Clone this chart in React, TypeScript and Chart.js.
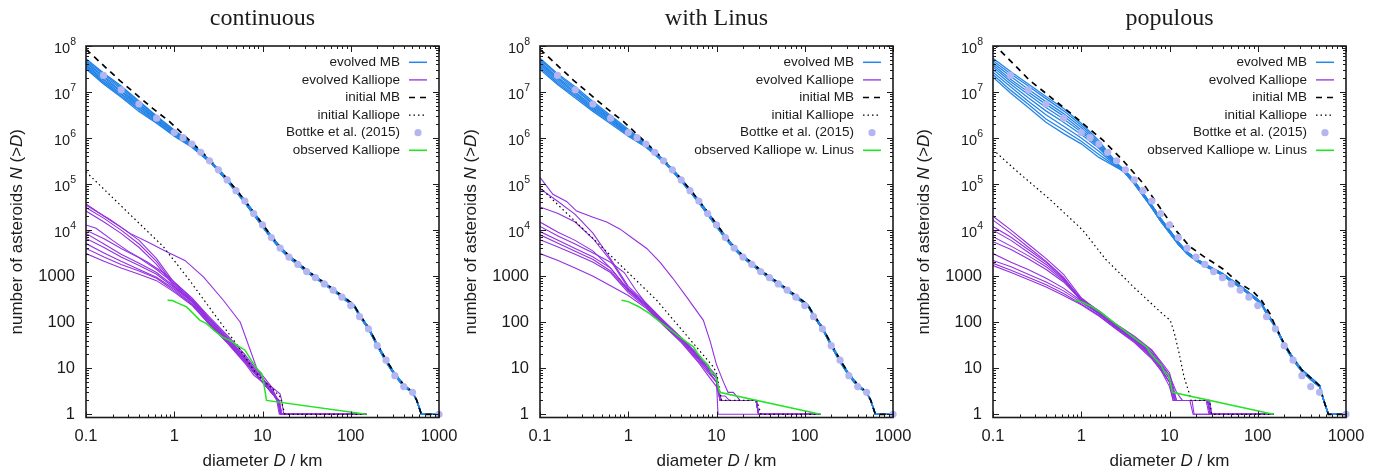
import React, { useEffect, useRef } from 'react';
import { Chart, registerables } from 'chart.js';

Chart.register(...registerables);

// ---------------- text ----------------
const panelTitles = ['continuous', 'with Linus', 'populous'];
const legendLabels = ['evolved MB', 'evolved Kalliope', 'initial MB', 'initial Kalliope', 'Bottke et al. (2015)'];
const observedLabels = ['observed Kalliope', 'observed Kalliope w. Linus', 'observed Kalliope w. Linus'];
const yTitleParts = ['number of asteroids ', 'N', ' (>', 'D', ')'];
const yTitleItalic = [false, true, false, true, false];
const xTitleParts = ['diameter ', 'D', ' / km'];
const xTitleItalic = [false, true, false];

// ---------------- ticks ----------------
const xTickValues = [0.1, 1, 10, 100, 1000];
const xTickLabels = ['0.1', '1', '10', '100', '1000'];
const yTickValues = [1, 10, 100, 1000, 1e4, 1e5, 1e6, 1e7, 1e8];
const yTickBase = ['1', '10', '100', '1000', '10', '10', '10', '10', '10'];
const yTickExp = ['', '', '', '', '4', '5', '6', '7', '8'];

// ---------------- Bottke et al. (2015) ----------------
const bottkeD = [0.158, 0.251, 0.398, 0.631, 1, 1.259, 1.585, 1.995, 2.512, 3.162, 3.981, 5.012, 6.31, 7.943, 10, 12.59, 15.85, 19.95, 25.12, 31.62, 39.81, 50.12, 63.1, 79.43, 100, 125.9, 158.5, 199.5, 251.2, 316.2, 398.1, 501.2, 1000];
const bottkeN = [2.3e7, 1.12e7, 5.5e6, 2.7e6, 1.32e6, 1.02e6, 7.4e5, 4.9e5, 3.2e5, 2.04e5, 1.23e5, 7.2e4, 4.3e4, 2.3e4, 1.3e4, 6.9e3, 4.1e3, 2.6e3, 1.8e3, 1.26e3, 930, 680, 500, 350, 230, 132, 72, 31, 15, 6.9, 4.0, 3.0, 1];

// ---------------- evolved MB (heads differ, tails overlap) ----------------
const mbHeadD = [0.1, 0.158, 0.251, 0.398, 0.631, 1, 1.585, 2.512];
const mbHeads1 = [
  [5.3e7, 2.6e7, 1.35e7, 6.4e6, 3.0e6, 1.5e6, 7.6e5, 3.4e5],
  [4.9e7, 2.45e7, 1.25e7, 6.0e6, 2.95e6, 1.42e6, 7.5e5, 3.3e5],
  [4.6e7, 2.2e7, 1.18e7, 5.5e6, 2.8e6, 1.4e6, 7.1e5, 3.25e5],
  [4.3e7, 2.1e7, 1.05e7, 5.4e6, 2.6e6, 1.33e6, 7.0e5, 3.2e5],
  [4.0e7, 1.9e7, 1.02e7, 4.9e6, 2.55e6, 1.3e6, 6.8e5, 3.15e5],
  [3.8e7, 1.8e7, 9.2e6, 4.8e6, 2.4e6, 1.24e6, 6.9e5, 3.1e5],
  [3.6e7, 1.65e7, 8.8e6, 4.4e6, 2.3e6, 1.2e6, 6.6e5, 3.1e5],
  [3.4e7, 1.6e7, 8.1e6, 4.2e6, 2.15e6, 1.14e6, 6.4e5, 3.05e5],
  [3.2e7, 1.5e7, 7.7e6, 3.8e6, 2.1e6, 1.1e6, 6.3e5, 3.0e5],
];
const mbHeads2 = [
  [5.4e7, 2.5e7, 1.3e7, 6.2e6, 3.1e6, 1.55e6, 7.8e5, 3.4e5],
  [5.0e7, 2.35e7, 1.2e7, 5.7e6, 2.9e6, 1.45e6, 7.4e5, 3.3e5],
  [4.6e7, 2.1e7, 1.12e7, 5.4e6, 2.75e6, 1.38e6, 7.3e5, 3.3e5],
  [4.3e7, 2.0e7, 1.0e7, 5.0e6, 2.6e6, 1.3e6, 7.0e5, 3.2e5],
  [4.0e7, 1.85e7, 9.4e6, 4.6e6, 2.5e6, 1.26e6, 6.8e5, 3.15e5],
  [3.7e7, 1.7e7, 8.6e6, 4.4e6, 2.35e6, 1.2e6, 6.7e5, 3.1e5],
  [3.4e7, 1.55e7, 8.1e6, 4.1e6, 2.2e6, 1.15e6, 6.5e5, 3.05e5],
  [3.1e7, 1.45e7, 7.4e6, 3.8e6, 2.05e6, 1.1e6, 6.3e5, 3.0e5],
];
const mbHeads3 = [
  [5.4e7, 2.8e7, 1.5e7, 8.0e6, 4.4e6, 2.1e6, 8.8e5, 2.9e5],
  [4.8e7, 2.5e7, 1.35e7, 7.2e6, 3.9e6, 1.9e6, 8.0e5, 2.8e5],
  [4.3e7, 2.2e7, 1.15e7, 6.2e6, 3.4e6, 1.7e6, 7.4e5, 2.75e5],
  [3.9e7, 1.9e7, 1.0e7, 5.4e6, 3.0e6, 1.5e6, 7.0e5, 2.7e5],
  [3.5e7, 1.7e7, 8.8e6, 4.6e6, 2.6e6, 1.35e6, 6.5e5, 2.6e5],
  [3.1e7, 1.5e7, 7.5e6, 3.9e6, 2.2e6, 1.2e6, 6.0e5, 2.5e5],
  [2.7e7, 1.3e7, 6.3e6, 3.2e6, 1.8e6, 1.0e6, 5.2e5, 2.45e5],
  [2.4e7, 1.1e7, 5.4e6, 2.6e6, 1.5e6, 8.5e5, 4.4e5, 2.35e5],
  [2.1e7, 9.5e6, 4.6e6, 2.2e6, 1.25e6, 7.5e5, 3.8e5, 2.3e5],
];
const mbTailD = [3.162, 3.981, 5.012, 6.31, 7.943, 10, 12.59, 15.85, 19.95, 25.12, 31.62, 39.81, 50.12, 63.1, 79.43, 100, 110, 125.9, 158.5, 199.5, 251.2, 316.2, 398.1, 501.2, 560, 631, 1000];
const mbTailA = [2.12e5, 1.3e5, 7.6e4, 4.45e4, 2.45e4, 1.35e4, 7.4e3, 4.35e3, 2.8e3, 1.95e3, 1.35e3, 985, 720, 528, 375, 270, 228, 147, 77, 33.5, 15.3, 7.6, 4.4, 3.05, 2, 1, 1];
const mbTailB = [1.92e5, 1.16e5, 6.8e4, 3.95e4, 2.17e4, 1.2e4, 6.6e3, 3.95e3, 2.5e3, 1.78e3, 1.24e3, 905, 670, 488, 345, 246, 212, 136, 71, 30.5, 13.8, 6.9, 4.0, 2.95, 2, 1, 1];
const mbTail3A = [1.92e5, 1.17e5, 6.3e4, 3.45e4, 1.78e4, 1.0e4, 5.5e3, 3.35e3, 2.4e3, 1.83e3, 1.45e3, 1.14e3, 830, 620, 438, 310, 258, 167, 83, 34.5, 16.8, 9.3, 6.3, 4.25, 2, 1, 1];
const mbTail3B = [1.72e5, 1.03e5, 5.6e4, 3.05e4, 1.58e4, 8.9e3, 4.9e3, 3.05e3, 2.17e3, 1.68e3, 1.34e3, 1.05e3, 770, 572, 405, 286, 242, 153, 77, 31.5, 15.2, 8.5, 5.7, 3.95, 2, 1, 1];

// ---------------- initial MB ----------------
const initMB12Head = [[0.1, 8.5e7], [0.24, 1.8e7], [0.57, 4.4e6], [0.88, 2.3e6], [1.36, 1.05e6], [2.0, 5.3e5], [2.512, 3.4e5]];
const initMB3 = [[0.1, 1.15e8], [0.26, 1.8e7], [0.68, 4.1e6], [1.76, 9e5], [2.95, 3.3e5], [5, 1.05e5], [8.4, 2.5e4], [12, 9.5e3], [17, 4.4e3], [25, 2.6e3], [31, 2.0e3], [40, 1.45e3], [62, 700], [89, 460], [110, 300], [137, 155], [158.5, 82], [199.5, 34], [251.2, 16.5], [316.2, 9.2], [398.1, 6.2], [501.2, 4.2], [560, 2], [631, 1], [1000, 1]];

// ---------------- initial Kalliope ----------------
const initK1 = [[0.1, 1.85e5], [0.3, 2.4e4], [0.75, 4.4e3], [1.5, 800], [3, 130], [5, 35], [8, 9], [10, 5.5], [13, 3.6], [15.8, 2.4], [18, 1], [150, 1]];
const initK2 = [[0.1, 8.5e4], [0.13, 5.2e4], [0.57, 3.4e3], [2.1, 300], [9.1, 11], [10, 8], [11.4, 2], [28.5, 2], [32, 1], [150, 1]];
const initK3 = [[0.1, 5.6e5], [0.2, 1.7e5], [0.45, 4.5e4], [1.04, 1e4], [1.9, 2.3e3], [2.95, 1.0e3], [3.85, 600], [5.9, 280], [8.4, 150], [10.2, 110], [11.3, 60], [12.8, 22], [14.6, 6.5], [16.8, 2.8], [17.5, 2], [28.5, 2], [30, 1], [150, 1]];

// ---------------- observed Kalliope ----------------
const obsCont = [[0.84, 300], [0.95, 295], [1.1, 260], [1.38, 215], [1.96, 110], [2.33, 93], [2.8, 67], [3.5, 48], [4.3, 40], [5.5, 29], [6.3, 25], [7.9, 12.6], [9, 9], [9.8, 7.6], [10.2, 5.5], [11.1, 2], [150, 1]];
const obsLinus = [[0.84, 300], [1.0, 280], [1.3, 220], [1.7, 160], [2.4, 95], [3.4, 57], [4.6, 37], [5.5, 29], [6.0, 22], [7.1, 15], [8.1, 11.5], [8.8, 8], [9.6, 7.5], [10, 6], [10.8, 3], [150, 1]];

// ---------------- evolved Kalliope ----------------
const kall1 = [
  [[0.1, 3.5e4], [0.187, 1.7e4], [0.316, 8.5e3], [0.5, 5.5e3], [0.82, 3.4e3], [1.32, 2.2e3], [2.14, 970], [3.6, 300], [5.6, 100], [8.6, 10], [10.2, 5.5], [12.6, 4], [15.8, 2.8], [16.5, 2], [17.4, 1], [150, 1]],
  [[0.1, 3.7e4], [0.16, 2.0e4], [0.25, 1.15e4], [0.4, 6e3], [0.63, 2.4e3], [1, 720], [1.6, 330], [2.5, 130], [4, 52], [6.3, 20], [8, 11], [10, 7], [12.6, 4], [15, 2], [16, 1], [150, 1]],
  [[0.1, 3.1e4], [0.16, 1.8e4], [0.25, 1.0e4], [0.4, 5e3], [0.63, 2.1e3], [1, 650], [1.6, 300], [2.5, 120], [4, 48], [6.3, 18], [8, 10], [10, 6], [12.6, 3], [15.5, 2], [16.5, 1], [150, 1]],
  [[0.1, 2.6e4], [0.16, 1.5e4], [0.25, 8.5e3], [0.4, 4.2e3], [0.63, 1.8e3], [1, 600], [1.6, 280], [2.5, 110], [4, 45], [6.3, 17], [8, 9], [10, 5], [13, 3], [15, 2], [16, 1], [150, 1]],
  [[0.1, 1.3e4], [0.13, 1.1e4], [0.2, 6e3], [0.3, 3.5e3], [0.5, 2e3], [0.8, 1.1e3], [1, 750], [1.6, 330], [2.5, 120], [4, 45], [6.3, 17], [8, 10], [10, 6], [12, 4], [14.5, 2], [15.5, 1], [150, 1]],
  [[0.1, 1.0e4], [0.16, 6.5e3], [0.25, 4e3], [0.4, 2.5e3], [0.63, 1.4e3], [1, 680], [1.6, 300], [2.5, 110], [4, 42], [6.3, 16], [8, 9], [10, 6], [12.6, 3.5], [15, 2], [16, 1], [150, 1]],
  [[0.1, 8.5e3], [0.16, 5e3], [0.25, 3e3], [0.4, 1.9e3], [0.63, 1.2e3], [1, 600], [1.6, 280], [2.5, 100], [4, 40], [6.3, 15], [8, 8], [10, 5], [12.6, 3], [15.5, 2], [16.5, 1], [150, 1]],
  [[0.1, 6.6e3], [0.16, 4.2e3], [0.25, 2.6e3], [0.4, 1.7e3], [0.63, 1.1e3], [1, 560], [1.6, 270], [2.5, 100], [4, 40], [6.3, 15], [8, 9], [10, 6], [12.6, 3], [15, 2], [16, 1], [150, 1]],
  [[0.1, 5.1e3], [0.16, 3.2e3], [0.25, 2.1e3], [0.4, 1.4e3], [0.63, 950], [1, 520], [1.6, 250], [2.5, 95], [4, 38], [6.3, 14], [8, 8], [10, 5], [12.6, 3], [15, 2], [16.5, 1], [150, 1]],
  [[0.1, 4e3], [0.16, 2.6e3], [0.25, 1.8e3], [0.4, 1.3e3], [0.63, 900], [1, 480], [1.6, 240], [2.5, 90], [4, 36], [6.3, 14], [8, 8], [10, 5], [12.6, 3], [15, 2], [16, 1], [150, 1]],
  [[0.1, 3.1e3], [0.16, 2.1e3], [0.25, 1.5e3], [0.4, 1.1e3], [0.63, 800], [1, 450], [1.6, 230], [2.5, 90], [4, 35], [6.3, 13], [8, 7], [10, 5], [12.6, 3], [15, 2], [16, 1], [150, 1]],
];
const kall2 = [
  [[0.1, 1.4e5], [0.14, 6e4], [0.2, 4.2e4], [0.26, 2.6e4], [0.4, 1.9e4], [0.57, 1.5e4], [0.81, 1.05e4], [1.14, 6.5e3], [1.62, 4e3], [2.3, 2e3], [3.2, 900], [4.6, 350], [7.1, 110], [8.5, 38], [10, 12], [12, 5], [13.5, 3], [15.5, 3], [18.5, 2], [28.5, 2], [30, 1], [150, 1]],
  [[0.1, 8e4], [0.16, 4.2e4], [0.25, 2.2e4], [0.4, 8.5e3], [0.63, 2.4e3], [1, 600], [1.6, 260], [2.5, 110], [4, 46], [6.3, 19], [8, 11], [10, 7], [10.5, 3], [11.5, 2], [28, 2], [30, 1], [150, 1]],
  [[0.1, 3.2e4], [0.16, 2.3e4], [0.25, 1.5e4], [0.4, 6.5e3], [0.63, 2.2e3], [1, 550], [1.6, 240], [2.5, 100], [4, 44], [6.3, 17], [8, 10], [10, 6], [11, 2], [28.5, 2], [30, 1], [150, 1]],
  [[0.1, 1.5e4], [0.16, 9e3], [0.25, 6e3], [0.4, 3.5e3], [0.63, 1.5e3], [1, 500], [1.6, 230], [2.5, 95], [4, 42], [6.3, 16], [8, 9], [10, 5], [10.4, 1], [28, 1], [150, 1]],
  [[0.1, 1.2e4], [0.16, 7.5e3], [0.25, 5e3], [0.4, 3.2e3], [0.63, 2e3], [0.9, 1.2e3], [1.2, 520], [1.6, 250], [2.5, 105], [4, 45], [6.3, 18], [8, 10], [10, 6], [11, 2.5], [12.5, 2.5], [14, 2], [28, 2], [30, 1], [150, 1]],
  [[0.1, 9.3e3], [0.16, 6e3], [0.25, 4e3], [0.4, 2.6e3], [0.63, 1.5e3], [1, 520], [1.6, 240], [2.5, 100], [4, 43], [6.3, 17], [8, 10], [10, 6], [11, 2], [28, 2], [30, 1], [150, 1]],
  [[0.1, 7.9e3], [0.16, 5.2e3], [0.25, 3.5e3], [0.4, 2.3e3], [0.63, 1.3e3], [1, 480], [1.6, 220], [2.5, 92], [4, 40], [6.3, 15], [8, 9], [10, 5], [11, 2], [28, 2], [30, 1], [150, 1]],
  [[0.1, 6.2e3], [0.16, 4.3e3], [0.25, 3e3], [0.4, 2e3], [0.63, 1.2e3], [1, 440], [1.6, 210], [2.5, 88], [4, 38], [6.3, 14], [8, 8], [10, 5], [11, 2], [28, 2], [30, 1], [150, 1]],
  [[0.1, 3.1e3], [0.16, 2.2e3], [0.25, 1.5e3], [0.4, 1e3], [0.63, 620], [1, 380], [1.6, 200], [2.5, 85], [4, 36], [6.3, 13], [8, 7], [10, 4], [11, 2], [28, 2], [30, 1], [150, 1]],
];
const kall3 = [
  [[0.1, 2e4], [0.16, 1e4], [0.25, 5e3], [0.4, 2.4e3], [0.63, 1.1e3], [1, 340], [1.6, 170], [2.5, 85], [4, 45], [6.3, 22], [8, 12], [10, 7], [11.5, 2], [27, 2], [29, 1], [150, 1]],
  [[0.1, 1.65e4], [0.16, 8.5e3], [0.25, 4.3e3], [0.4, 2.1e3], [0.63, 950], [1, 310], [1.6, 160], [2.5, 80], [4, 42], [6.3, 20], [8, 11], [10, 6], [12, 2], [17, 2], [18.5, 1], [150, 1]],
  [[0.1, 1.2e4], [0.16, 7e3], [0.25, 3.8e3], [0.4, 2e3], [0.63, 900], [1, 320], [1.6, 175], [2.5, 90], [4, 50], [6.3, 25], [8, 14], [10, 8], [11, 4], [12, 2], [28, 2], [30, 1], [150, 1]],
  [[0.1, 1e4], [0.16, 6e3], [0.25, 3.3e3], [0.4, 1.8e3], [0.63, 850], [1, 290], [1.6, 150], [2.5, 78], [4, 40], [6.3, 18], [8, 10], [10, 5], [11.5, 2], [27, 2], [29, 1], [150, 1]],
  [[0.1, 7.2e3], [0.16, 4.5e3], [0.25, 2.8e3], [0.4, 1.6e3], [0.63, 800], [1, 310], [1.6, 165], [2.5, 88], [4, 48], [6.3, 24], [8, 13], [10, 7], [12, 3], [14, 2], [28.5, 2], [30, 1], [150, 1]],
  [[0.1, 5.6e3], [0.16, 3.8e3], [0.25, 2.4e3], [0.4, 1.4e3], [0.63, 750], [1, 300], [1.6, 160], [2.5, 82], [4, 44], [6.3, 21], [8, 11], [10, 6], [11.5, 2], [18, 2], [19, 1], [150, 1]],
  [[0.1, 3.1e3], [0.16, 2e3], [0.25, 1.4e3], [0.4, 900], [0.63, 550], [1, 290], [1.6, 155], [2.5, 80], [4, 42], [6.3, 20], [8, 11], [10, 6], [11.5, 2], [27, 2], [29, 1], [150, 1]],
  [[0.1, 2.2e3], [0.16, 1.6e3], [0.25, 1.1e3], [0.4, 750], [0.63, 480], [1, 270], [1.6, 150], [2.5, 76], [4, 40], [6.3, 19], [8, 10], [10, 5], [11.5, 2], [27, 2], [29, 1], [150, 1]],
  [[0.1, 1.9e3], [0.16, 1.35e3], [0.25, 950], [0.4, 650], [0.63, 420], [1, 250], [1.6, 140], [2.5, 72], [4, 38], [6.3, 17], [8, 9], [10, 5], [11, 2], [27, 2], [29, 1], [150, 1]],
  [[0.1, 1.7e3], [0.16, 1.2e3], [0.25, 850], [0.4, 580], [0.63, 380], [1, 240], [1.6, 135], [2.5, 70], [4, 36], [6.3, 16], [8, 9], [10, 4], [11, 2], [26, 2], [28, 1], [150, 1]],
];

// ---------------- styling ----------------
const SANS = '"Liberation Sans", Arial, Helvetica, sans-serif';
const SERIF = '"Liberation Serif", "Times New Roman", serif';
const INK = '#1b1b1b';
const BLUE = '#2585e8';
const PURPLE = '#9330e0';
const GREEN = '#22e422';
const BOTTKE_C = '#b4b6f2';
const DASH = [6, 5];
const DOT = [1.5, 3];

const CANVAS_W = 469;
const CANVAS_H = 470;
const PAD = { left: 86, right: 30, top: 46, bottom: 52.5 };

const PANELS = [
  { title: panelTitles[0], canvasLeft: 0, heads: mbHeads1, tailA: mbTailA, tailB: mbTailB, initMB: null as any, initK: initK1, kall: kall1, obs: obsCont, obsLabel: observedLabels[0] },
  { title: panelTitles[1], canvasLeft: 454, heads: mbHeads2, tailA: mbTailA, tailB: mbTailB, initMB: null as any, initK: initK2, kall: kall2, obs: obsLinus, obsLabel: observedLabels[1] },
  { title: panelTitles[2], canvasLeft: 907, heads: mbHeads3, tailA: mbTail3A, tailB: mbTail3B, initMB: initMB3, initK: initK3, kall: kall3, obs: obsLinus, obsLabel: observedLabels[2] },
];

const toXY = (pairs: number[][]) => pairs.map(([x, y]) => ({ x, y }));
const zipXY = (D: number[], N: number[]) => D.map((x, i) => ({ x, y: N[i] }));

function lineDs(data: any[], color: string, width: number, order: number, dash: number[] = []) {
  return {
    data,
    showLine: true,
    borderColor: color,
    backgroundColor: color,
    borderWidth: width,
    borderDash: dash,
    pointRadius: 0,
    pointHoverRadius: 0,
    fill: false,
    tension: 0,
    order,
  };
}

function buildDatasets(p: any) {
  const ds: any[] = [];
  p.heads.forEach((h: number[], i: number) => {
    const tail = i % 2 === 0 ? p.tailA : p.tailB;
    ds.push(lineDs([...zipXY(mbHeadD, h), ...zipXY(mbTailD, tail)], BLUE, 1.3, 6));
  });
  p.kall.forEach((k: number[][]) => ds.push(lineDs(toXY(k), PURPLE, 1.1, 5)));
  const initMB = p.initMB ? toXY(p.initMB) : [...toXY(initMB12Head), ...zipXY(mbTailD, mbTailA)];
  ds.push(lineDs(initMB, '#000', 1.7, 4, DASH));
  ds.push(lineDs(toXY(p.initK), '#000', 1.2, 3, DOT));
  ds.push({
    data: zipXY(bottkeD, bottkeN),
    showLine: false,
    pointRadius: 3.6,
    pointHoverRadius: 3.6,
    pointBackgroundColor: BOTTKE_C,
    pointBorderWidth: 0,
    pointBorderColor: BOTTKE_C,
    clip: false,
    order: 2,
  });
  ds.push(lineDs(toXY(p.obs), GREEN, 1.5, 1));
  return ds;
}

function drawRich(ctx: CanvasRenderingContext2D, parts: string[], italic: boolean[], cx: number, cy: number, size: number) {
  const fonts = parts.map((_, k) => `${italic[k] ? 'italic ' : ''}${size}px ${SANS}`);
  const widths = parts.map((t, k) => { ctx.font = fonts[k]; return ctx.measureText(t).width; });
  const total = widths.reduce((a, b) => a + b, 0);
  let x = cx - total / 2;
  ctx.textAlign = 'left';
  ctx.textBaseline = 'middle';
  parts.forEach((t, k) => { ctx.font = fonts[k]; ctx.fillText(t, x, cy); x += widths[k]; });
}

function makeOverlay(p: any) {
  return {
    id: 'gnuOverlay',
    afterDatasetsDraw(chart: any) {
      const { ctx, chartArea: a, scales } = chart;
      const xs = scales.x;
      const ys = scales.y;
      ctx.save();
      ctx.setLineDash([]);
      ctx.strokeStyle = INK;
      ctx.fillStyle = INK;
      // ticks (inward, mirrored)
      ctx.lineWidth = 1;
      ctx.beginPath();
      for (let e = -1; e <= 3; e++) {
        for (let m = 1; m <= 9; m++) {
          const v = m * Math.pow(10, e);
          if (v > 1000.001) continue;
          const px = Math.round(xs.getPixelForValue(v)) + 0.5;
          const len = m === 1 ? 6 : 3;
          ctx.moveTo(px, a.bottom); ctx.lineTo(px, a.bottom - len);
          ctx.moveTo(px, a.top); ctx.lineTo(px, a.top + len);
        }
      }
      for (let e = 0; e <= 8; e++) {
        for (let m = 1; m <= 9; m++) {
          const v = m * Math.pow(10, e);
          if (v > 1e8 * 1.0001) continue;
          const py = Math.round(ys.getPixelForValue(v)) + 0.5;
          const len = m === 1 ? 6 : 3;
          ctx.moveTo(a.left, py); ctx.lineTo(a.left + len, py);
          ctx.moveTo(a.right, py); ctx.lineTo(a.right - len, py);
        }
      }
      ctx.stroke();
      // border
      ctx.lineWidth = 1.6;
      ctx.strokeRect(a.left, a.top, a.right - a.left, a.bottom - a.top);

      // x tick labels
      ctx.font = `16.5px ${SANS}`;
      ctx.textAlign = 'center';
      ctx.textBaseline = 'middle';
      xTickValues.forEach((v, i) => ctx.fillText(xTickLabels[i], xs.getPixelForValue(v), a.bottom + 18.5));
      // y tick labels
      const rx = a.left - 10;
      yTickValues.forEach((v, i) => {
        const py = ys.getPixelForValue(v);
        if (!yTickExp[i]) {
          ctx.font = `16.5px ${SANS}`;
          ctx.textAlign = 'right';
          ctx.textBaseline = 'middle';
          ctx.fillText(yTickBase[i], rx - 1, py);
        } else {
          ctx.font = `10.5px ${SANS}`;
          const ew = ctx.measureText(yTickExp[i]).width;
          ctx.font = `14.5px ${SANS}`;
          const bw = ctx.measureText(yTickBase[i]).width;
          const x0 = rx - ew - bw;
          ctx.textAlign = 'left';
          ctx.textBaseline = 'middle';
          ctx.fillText(yTickBase[i], x0, py + 3);
          ctx.font = `10.5px ${SANS}`;
          ctx.fillText(yTickExp[i], x0 + bw, py - 4);
        }
      });

      // axis titles
      drawRich(ctx, xTitleParts, xTitleItalic, (a.left + a.right) / 2, a.bottom + 44, 17);
      ctx.save();
      ctx.translate(a.left - 69, (a.top + a.bottom) / 2);
      ctx.rotate(-Math.PI / 2);
      drawRich(ctx, yTitleParts, yTitleItalic, 0, 0, 17);
      ctx.restore();

      // panel title
      ctx.font = `24px ${SERIF}`;
      ctx.textAlign = 'center';
      ctx.textBaseline = 'alphabetic';
      ctx.fillText(p.title, (a.left + a.right) / 2, 25);

      // legend
      const labels = [...legendLabels, p.obsLabel];
      const tx = a.right - 39;
      const s0 = a.right - 30;
      const s1 = a.right - 12;
      const styles = [
        { c: BLUE, w: 1.5, d: [] as number[] },
        { c: PURPLE, w: 1.3, d: [] as number[] },
        { c: '#000', w: 1.7, d: DASH },
        { c: '#000', w: 1.2, d: DOT },
        null,
        { c: GREEN, w: 1.6, d: [] as number[] },
      ];
      labels.forEach((lab, i) => {
        const y = a.top + 16.3 + i * 17.6;
        ctx.font = `13.5px ${SANS}`;
        ctx.fillStyle = INK;
        ctx.textAlign = 'right';
        ctx.textBaseline = 'middle';
        ctx.fillText(lab, tx, y);
        if (i === 4) {
          ctx.fillStyle = BOTTKE_C;
          ctx.beginPath();
          ctx.arc((s0 + s1) / 2, y, 3.6, 0, Math.PI * 2);
          ctx.fill();
          return;
        }
        const st = styles[i]!;
        ctx.strokeStyle = st.c;
        ctx.lineWidth = st.w;
        ctx.setLineDash(st.d);
        ctx.beginPath();
        ctx.moveTo(s0, y);
        ctx.lineTo(s1, y);
        ctx.stroke();
        ctx.setLineDash([]);
      });
      ctx.restore();
    },
  };
}

function PanelChart({ panel }: { panel: any }) {
  const ref = useRef<HTMLCanvasElement | null>(null);
  useEffect(() => {
    if (!ref.current) return;
    const chart = new Chart(ref.current, {
      type: 'scatter',
      data: { datasets: buildDatasets(panel) },
      options: {
        animation: false,
        responsive: false,
        maintainAspectRatio: false,
        devicePixelRatio: 1,
        events: [],
        layout: { padding: PAD },
        scales: {
          x: { type: 'logarithmic', min: 0.1, max: 1000, display: false, bounds: 'data' },
          y: { type: 'logarithmic', min: 0.852, max: 1e8, display: false, bounds: 'data' },
        },
        plugins: { legend: { display: false }, tooltip: { enabled: false }, title: { display: false } },
      } as any,
      plugins: [makeOverlay(panel)],
    } as any);
    return () => chart.destroy();
  }, [panel]);
  return (
    <canvas
      ref={ref}
      width={CANVAS_W}
      height={CANVAS_H}
      style={{ position: 'absolute', left: panel.canvasLeft, top: 0, width: CANVAS_W, height: CANVAS_H }}
    />
  );
}

export default function App() {
  return (
    <div style={{ position: 'absolute', left: 0, top: 0, width: 1386, height: 470, background: '#ffffff', overflow: 'hidden' }}>
      {PANELS.map((p, i) => <PanelChart key={i} panel={p} />)}
    </div>
  );
}
